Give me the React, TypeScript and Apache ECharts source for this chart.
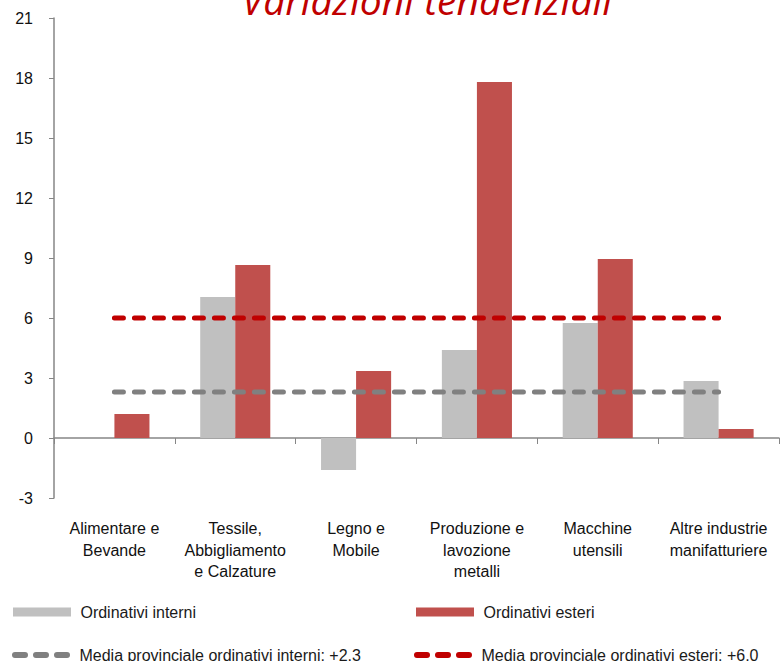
import React, { useEffect, useRef } from "react";
import * as echarts from "echarts";

const categories = [
  "Alimentare e\nBevande",
  "Tessile,\nAbbigliamento\ne Calzature",
  "Legno e\nMobile",
  "Produzione e\nlavozione\nmetalli",
  "Macchine\nutensili",
  "Altre industrie\nmanifatturiere",
];
const interni = [0, 7.05, -1.6, 4.4, 5.75, 2.85];
const esteri = [1.2, 8.65, 3.35, 17.8, 8.95, 0.45];
const mediaInterni = 2.3;
const mediaEsteri = 6.0;
const yTicks = { min: -3, max: 21, interval: 3 };

const nameInterni = "Ordinativi interni";
const nameEsteri = "Ordinativi esteri";
const nameMediaInterni = "Media provinciale ordinativi interni: +2,3";
const nameMediaEsteri = "Media provinciale ordinativi esteri: +6,0";

const dashIcon =
  "path://M3,0H13A3,3,0,0,1,13,6H3A3,3,0,0,1,3,0Z" +
  "M24,0H34A3,3,0,0,1,34,6H24A3,3,0,0,1,24,0Z" +
  "M45,0H55A3,3,0,0,1,55,6H45A3,3,0,0,1,45,0Z";

export default function App() {
  const ref = useRef<HTMLDivElement>(null);
  useEffect(() => {
    if (!ref.current) return;
    const chart = echarts.init(ref.current, null, { renderer: "svg" });
    const font = "'Liberation Sans', Arial, sans-serif";
    const legendBase = {
      padding: 0,
      itemWidth: 58,
      itemHeight: 9,
      textStyle: { fontFamily: font, fontSize: 16, color: "#1a1a1a" },
      formatter: (n: string) => " " + n,
      selectedMode: false,
      orient: "horizontal",
    };
    const lineLegend = {
      ...legendBase,
      itemHeight: 6,
    };
    chart.setOption({
      animation: false,
      backgroundColor: "#ffffff",
      title: {
        text: "Variazioni tendenziali",
        left: 422,
        textAlign: "center",
        top: -25,
        textStyle: {
          fontFamily: "'Open Sans', sans-serif",
          fontStyle: "italic",
          fontWeight: "normal",
          fontSize: 39,
          color: "#C00000",
        },
      },
      legend: [
        { ...legendBase, data: [{ name: nameInterni, icon: "rect" }], left: 13, top: 604 },
        { ...legendBase, data: [{ name: nameEsteri, icon: "rect" }], left: 416, top: 604 },
        { ...lineLegend, data: [{ name: nameMediaInterni, icon: dashIcon }], left: 12, top: 647 },
        { ...lineLegend, data: [{ name: nameMediaEsteri, icon: dashIcon }], left: 414, top: 647 },
      ],
      grid: { left: 54, right: 3, top: 18, bottom: 163, containLabel: false },
      xAxis: {
        type: "category",
        data: categories,
        axisLine: { onZero: true, lineStyle: { color: "#868686", width: 1.5 } },
        axisTick: { show: true, length: 6, lineStyle: { color: "#868686" } },
        axisLabel: {
          margin: 20,
          interval: 0,
          fontFamily: font,
          fontSize: 16,
          lineHeight: 21.5,
          color: "#111",
        },
      },
      yAxis: {
        type: "value",
        min: yTicks.min,
        max: yTicks.max,
        interval: yTicks.interval,
        splitLine: { show: false },
        axisLine: { show: true, lineStyle: { color: "#868686", width: 1.5 } },
        axisTick: { show: true, length: 5, lineStyle: { color: "#868686" } },
        axisLabel: {
          margin: 21,
          fontFamily: font,
          fontSize: 16,
          color: "#111",
        },
      },
      series: [
        {
          name: nameInterni,
          type: "bar",
          data: interni,
          barGap: "0%",
          barCategoryGap: "42%",
          itemStyle: { color: "#C0C0C0" },
        },
        {
          name: nameEsteri,
          type: "bar",
          data: esteri,
          itemStyle: { color: "#C0504D" },
        },
        {
          name: nameMediaInterni,
          type: "line",
          data: categories.map(() => mediaInterni),
          symbol: "none",
          lineStyle: { color: "#808080", width: 5, type: [9, 11], cap: "round" },
          itemStyle: { color: "#808080" },
          z: 5,
        },
        {
          name: nameMediaEsteri,
          type: "line",
          data: categories.map(() => mediaEsteri),
          symbol: "none",
          lineStyle: { color: "#C00000", width: 5, type: [9, 11], cap: "round" },
          itemStyle: { color: "#C00000" },
          z: 5,
        },
      ],
    });
    return () => chart.dispose();
  }, []);
  return (
    <div
      ref={ref}
      style={{ position: "fixed", left: 0, top: 0, width: 782, height: 661, background: "#fff" }}
    />
  );
}
